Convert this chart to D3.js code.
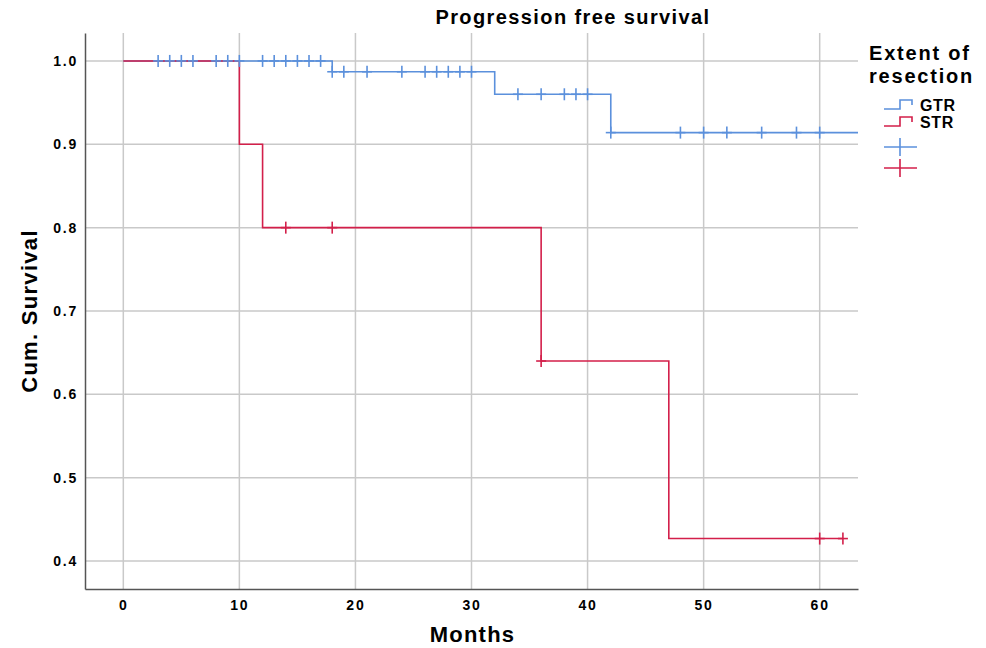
<!DOCTYPE html>
<html>
<head>
<meta charset="utf-8">
<script src="https://cdn.jsdelivr.net/npm/d3@7"></script>
<style>
  body { margin: 0; background: #ffffff; }
  svg text { font-family: "Liberation Sans", Arial, Helvetica, sans-serif; fill: #000; }
</style>
</head>
<body>
<div id="chart"></div>
<script>
(function() {
    // ---- data ----
    const gtrTimes = [0, 18, 32, 42];
    const gtrSurv  = [1.0, 0.987, 0.960, 0.914];
    const gtrEnd   = 66;
    const gtrCensor = [3, 4, 5, 6, 8, 9, 10, 12, 13, 14, 15, 16, 17, 18, 19, 21, 24, 26, 27, 28, 29, 30,
                       34, 36, 38, 39, 40, 42, 48, 50, 52, 55, 58, 60];

    const strTimes = [0, 10, 12, 36, 47];
    const strSurv  = [1.0, 0.9, 0.8, 0.64, 0.427];
    const strEnd   = 62;
    const strCensor = [14, 18, 36, 60, 62];

    const xTicks = [0, 10, 20, 30, 40, 50, 60];
    const yTicks = [0.4, 0.5, 0.6, 0.7, 0.8, 0.9, 1.0];

    const groups = ["GTR", "STR"];
    const colors = { GTR: "#5b90dc", STR: "#d31f4a" };

    // ---- layout ----
    const width = 986, height = 648;
    const plot = { left: 85, right: 858, top: 33, bottom: 589 };

    const svg = d3.select("#chart").append("svg")
        .attr("width", width).attr("height", height);

    const x = d3.scaleLinear().domain([-3.3, 63.3]).range([plot.left, plot.right]);
    const y = d3.scaleLinear().domain([0.3665, 1.0335]).range([plot.bottom, plot.top]);

    svg.append("defs").append("clipPath").attr("id", "plot-clip")
        .append("rect")
        .attr("x", plot.left).attr("y", plot.top)
        .attr("width", plot.right - plot.left).attr("height", plot.bottom - plot.top);

    // grid
    const grid = svg.append("g").attr("stroke", "#c9c9c9").attr("stroke-width", 1.5);
    grid.selectAll(".vg").data(xTicks).join("line")
        .attr("x1", d => x(d)).attr("x2", d => x(d))
        .attr("y1", plot.top).attr("y2", plot.bottom);
    grid.selectAll(".hg").data(yTicks).join("line")
        .attr("x1", plot.left).attr("x2", plot.right)
        .attr("y1", d => y(d)).attr("y2", d => y(d));

    // axes (no tick marks, just labels)
    const xAxis = svg.append("g")
        .attr("transform", `translate(0,${plot.bottom})`)
        .call(d3.axisBottom(x).tickValues(xTicks).tickSize(0).tickPadding(11).tickFormat(d3.format("d")));
    const yAxis = svg.append("g")
        .attr("transform", `translate(${plot.left},0)`)
        .call(d3.axisLeft(y).tickValues(yTicks).tickSize(0).tickPadding(7).tickFormat(d3.format(".1f")));
    [xAxis, yAxis].forEach(a => {
        a.select(".domain").attr("stroke", "#555").attr("stroke-width", 1.5);
        a.selectAll("text")
            .attr("font-family", "'Liberation Sans', Arial, sans-serif")
            .attr("font-size", 14).attr("font-weight", "bold")
            .attr("letter-spacing", "1.8px").attr("fill", "#000");
    });

    // step path builder
    function stepPoints(times, surv, end) {
        const pts = [];
        times.forEach((t, i) => {
            if (i > 0) pts.push([t, surv[i - 1]]);
            pts.push([t, surv[i]]);
        });
        pts.push([end, surv[surv.length - 1]]);
        return pts;
    }
    function survAt(times, surv, t) {
        let s = surv[0];
        times.forEach((tt, i) => { if (tt <= t) s = surv[i]; });
        return s;
    }

    const line = d3.line().x(d => x(d[0])).y(d => y(d[1]));
    const curves = svg.append("g").attr("clip-path", "url(#plot-clip)");

    const series = {
        GTR: { times: gtrTimes, surv: gtrSurv, end: gtrEnd, censor: gtrCensor },
        STR: { times: strTimes, surv: strSurv, end: strEnd, censor: strCensor }
    };

    groups.forEach(g => {
        const s = series[g];
        curves.append("path")
            .datum(stepPoints(s.times, s.surv, s.end))
            .attr("d", line)
            .attr("fill", "none")
            .attr("stroke", colors[g])
            .attr("stroke-width", 1.6);
    });

    const tick = 6;
    groups.forEach(g => {
        const s = series[g];
        const cg = curves.append("g").attr("stroke", colors[g]).attr("stroke-width", 1.6);
        s.censor.forEach(t => {
            const cx = x(t), cy = y(survAt(s.times, s.surv, t));
            cg.append("line").attr("x1", cx).attr("x2", cx).attr("y1", cy - tick).attr("y2", cy + tick);
            cg.append("line").attr("x1", cx - 5).attr("x2", cx + 5).attr("y1", cy).attr("y2", cy);
        });
    });

    // titles
    svg.append("text")
        .attr("x", 573).attr("y", 24)
        .attr("text-anchor", "middle")
        .attr("font-size", 20).attr("font-weight", "bold")
        .attr("letter-spacing", "1.4px")
        .text("Progression free survival");

    svg.append("text")
        .attr("x", (plot.left + plot.right) / 2 + 1).attr("y", 642)
        .attr("text-anchor", "middle")
        .attr("font-size", 22).attr("font-weight", "bold")
        .attr("letter-spacing", "1.2px")
        .text("Months");

    svg.append("text")
        .attr("transform", `translate(37,${(plot.top + plot.bottom) / 2}) rotate(-90)`)
        .attr("text-anchor", "middle")
        .attr("font-size", 22).attr("font-weight", "bold")
        .attr("letter-spacing", "1.3px")
        .text("Cum. Survival");

    // legend
    const lg = svg.append("g");
    lg.append("text").attr("x", 869).attr("y", 60)
        .attr("font-size", 20).attr("font-weight", "bold")
        .attr("letter-spacing", "1.8px").text("Extent of");
    lg.append("text").attr("x", 869).attr("y", 83)
        .attr("font-size", 20).attr("font-weight", "bold")
        .attr("letter-spacing", "1.8px").text("resection");

    groups.forEach((g, i) => {
        const base = 109 + i * 17;
        lg.append("path")
            .attr("d", `M884,${base}H900V${base - 9}H912V${base - 4}`)
            .attr("fill", "none").attr("stroke", colors[g]).attr("stroke-width", 1.6);
        lg.append("text").attr("x", 920).attr("y", base + 2)
            .attr("font-size", 16).attr("font-weight", "bold")
            .attr("letter-spacing", "0.6px").text(g);
    });
    groups.forEach((g, i) => {
        const cy = 147 + i * 21;
        lg.append("line").attr("x1", 884).attr("x2", 917).attr("y1", cy).attr("y2", cy)
            .attr("stroke", colors[g]).attr("stroke-width", 1.6);
        lg.append("line").attr("x1", 900).attr("x2", 900).attr("y1", cy - 9).attr("y2", cy + 9)
            .attr("stroke", colors[g]).attr("stroke-width", 1.6);
    });
})();
</script>
</body>
</html>
